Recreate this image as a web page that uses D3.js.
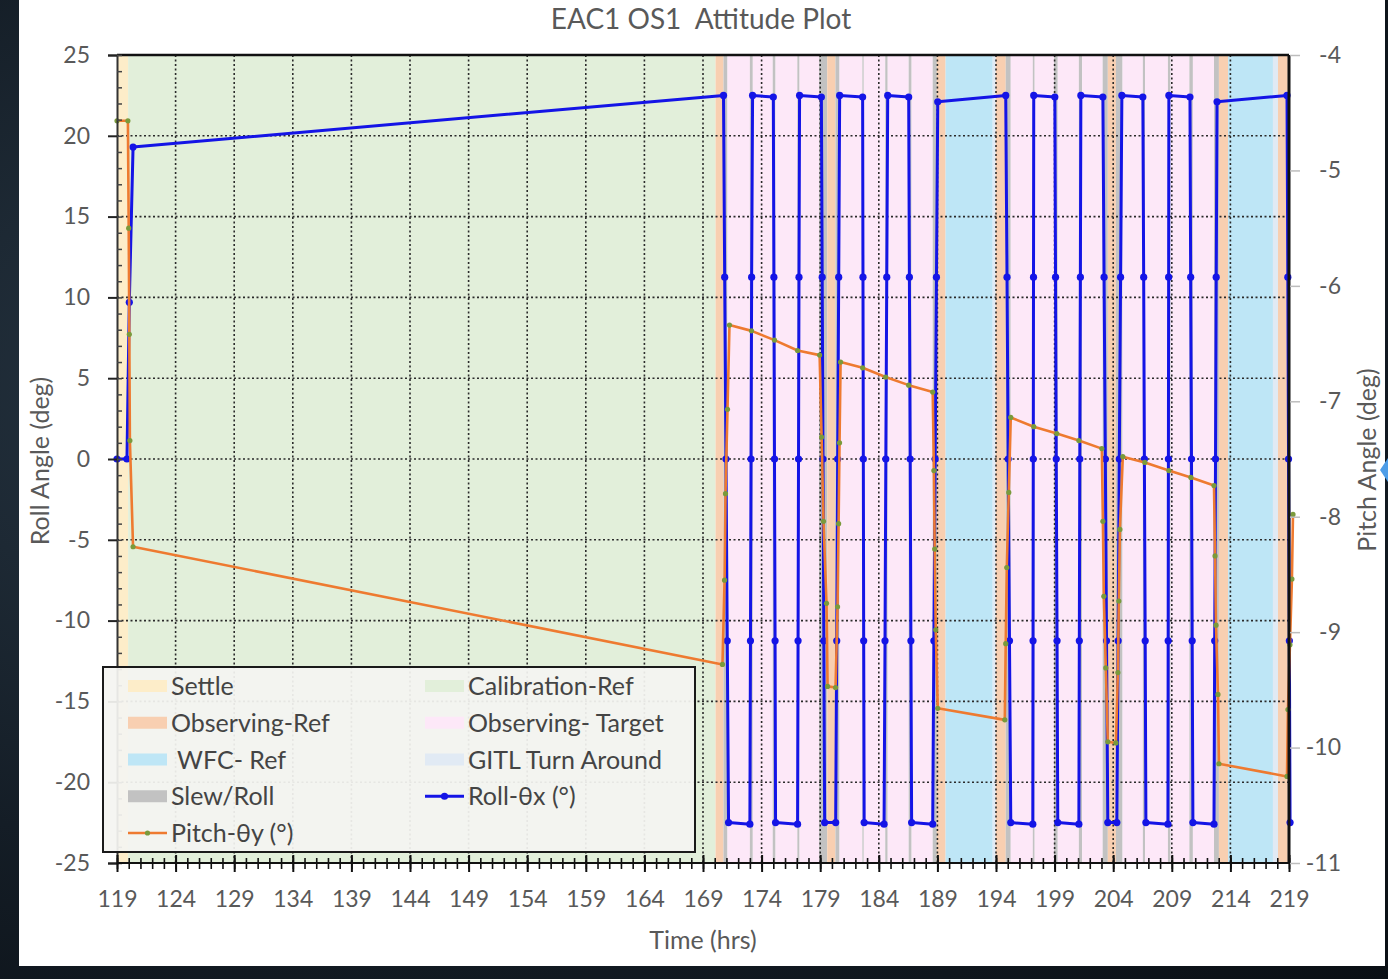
<!DOCTYPE html>
<html>
<head>
<meta charset="utf-8">
<script src="https://cdn.jsdelivr.net/npm/d3@7"></script>
<style>
  body { margin: 0; background: radial-gradient(ellipse at 30% 40%, #2a3a48 0%, #141d26 60%, #0a0f14 100%); }
  text { font-family: Lato, "Open Sans", sans-serif; }
</style>
</head>
<body>
<script>
const title = "EAC1 OS1  Attitude Plot";
const timeTicks = [119, 124, 129, 134, 139, 144, 149, 154, 159, 164, 169, 174, 179, 184, 189, 194, 199, 204, 209, 214, 219];
const rollTicks = [-25, -20, -15, -10, -5, 0, 5, 10, 15, 20, 25];
const pitchTicks = [-11, -10, -9, -8, -7, -6, -5, -4];

// activity bands: [start hr, end hr, kind]
const bands = [
  [119.00, 119.95, "settle"], [119.95, 170.07, "calib"], [170.07, 170.75, "obsRef"],
  [170.75, 171.09, "slew"], [171.09, 173.00, "target"], [173.00, 173.25, "slew"],
  [173.25, 174.95, "target"], [174.95, 175.19, "slew"], [175.19, 177.05, "target"],
  [177.05, 177.24, "slew"], [177.24, 178.90, "target"], [178.90, 179.60, "slew"],
  [179.60, 180.30, "obsRef"], [180.30, 180.65, "slew"], [180.65, 182.60, "target"],
  [182.60, 182.72, "slew"], [182.72, 184.55, "target"], [184.55, 184.76, "slew"],
  [184.76, 186.55, "target"], [186.55, 186.80, "slew"], [186.80, 188.60, "target"],
  [188.60, 188.95, "slew"], [188.95, 189.70, "obsRef"], [189.70, 193.72, "wfc"],
  [193.72, 193.98, "gitl"], [193.98, 194.83, "obsRef"], [194.83, 195.26, "slew"],
  [195.26, 197.14, "target"], [197.14, 197.30, "slew"], [197.30, 198.95, "target"],
  [198.95, 199.27, "slew"], [199.27, 201.07, "target"], [201.07, 201.35, "slew"],
  [201.35, 203.10, "target"], [203.10, 203.54, "slew"], [203.54, 204.23, "obsRef"],
  [204.23, 204.80, "slew"], [204.80, 206.53, "target"], [206.53, 206.72, "slew"],
  [206.72, 208.67, "target"], [208.67, 208.90, "slew"], [208.90, 210.50, "target"],
  [210.50, 210.80, "slew"], [210.80, 212.60, "target"], [212.60, 213.02, "slew"],
  [213.02, 213.80, "obsRef"], [213.80, 217.63, "wfc"], [217.63, 218.06, "gitl"],
  [218.06, 218.90, "obsRef"], [218.90, 219.17, "slew"]
];

// Roll-θx (°): [hr, deg]
const roll = [
  [119.00, 0], [119.85, 0], [120.05, 9.7], [120.37, 19.3],
  [170.75, 22.5], [170.85, 11.25], [170.96, 0], [171.07, -11.25], [171.18, -22.5],
  [173.00, -22.6], [173.05, -11.25], [173.10, 0], [173.15, 11.25], [173.23, 22.5],
  [175.00, 22.4], [175.05, 11.25], [175.10, 0], [175.15, -11.25], [175.19, -22.5],
  [177.07, -22.6], [177.11, -11.25], [177.15, 0], [177.19, 11.25], [177.24, 22.5],
  [179.10, 22.4], [179.17, 11.25], [179.24, 0], [179.31, -11.25], [179.38, -22.5],
  [180.32, -22.5], [180.41, -11.25], [180.49, 0], [180.58, 11.25], [180.66, 22.5],
  [182.62, 22.4], [182.65, 11.25], [182.68, 0], [182.71, -11.25], [182.75, -22.5],
  [184.45, -22.6], [184.53, -11.25], [184.60, 0], [184.68, 11.25], [184.76, 22.5],
  [186.55, 22.4], [186.61, 11.25], [186.68, 0], [186.74, -11.25], [186.80, -22.5],
  [188.60, -22.6], [188.70, -11.25], [188.81, 0], [188.92, 11.25], [189.03, 22.1],
  [194.83, 22.5], [194.94, 11.25], [195.04, 0], [195.15, -11.25], [195.26, -22.5],
  [197.14, -22.6], [197.16, -11.25], [197.18, 0], [197.20, 11.25], [197.22, 22.5],
  [199.02, 22.4], [199.08, 11.25], [199.14, 0], [199.21, -11.25], [199.27, -22.5],
  [201.07, -22.6], [201.11, -11.25], [201.15, 0], [201.20, 11.25], [201.24, 22.5],
  [203.12, 22.4], [203.22, 11.25], [203.33, 0], [203.43, -11.25], [203.54, -22.5],
  [204.31, -22.5], [204.42, -11.25], [204.52, 0], [204.63, 11.25], [204.74, 22.5],
  [206.53, 22.4], [206.60, 11.25], [206.66, 0], [206.73, -11.25], [206.79, -22.5],
  [208.67, -22.6], [208.69, -11.25], [208.71, 0], [208.73, 11.25], [208.75, 22.5],
  [210.55, 22.4], [210.61, 11.25], [210.68, 0], [210.74, -11.25], [210.80, -22.5],
  [212.60, -22.6], [212.66, -11.25], [212.73, 0], [212.79, 11.25], [212.86, 22.1],
  [218.83, 22.5], [218.90, 11.25], [218.96, 0], [219.03, -11.25], [219.09, -22.5]
];

// Pitch-θy (°): [hr, deg]
const pitch = [
  [119.00, -4.57], [119.93, -4.57], [120.00, -5.50], [120.05, -6.42], [120.10, -7.34], [120.37, -8.26],
  [170.66, -9.28], [170.84, -8.55], [170.92, -7.80], [171.09, -7.07], [171.26, -6.34],
  [173.14, -6.39], [175.10, -6.47], [177.07, -6.56], [178.95, -6.60],
  [179.12, -7.31], [179.28, -8.04], [179.54, -8.75], [179.63, -9.47], [180.31, -9.48],
  [180.48, -8.78], [180.57, -8.06], [180.65, -7.36], [180.74, -6.66],
  [182.62, -6.71], [184.58, -6.79], [186.55, -6.86], [188.60, -6.92],
  [188.70, -7.60], [188.77, -8.28], [188.86, -8.98], [189.03, -9.66], [194.75, -9.76],
  [194.83, -9.10], [194.92, -8.44], [195.09, -7.79], [195.26, -7.14],
  [197.22, -7.22], [199.19, -7.28], [201.07, -7.34], [203.03, -7.41],
  [203.12, -8.04], [203.20, -8.69], [203.37, -9.31], [203.54, -9.95], [204.23, -9.96],
  [204.40, -9.35], [204.48, -8.73], [204.57, -8.11], [204.82, -7.48],
  [206.70, -7.53], [208.75, -7.60], [210.63, -7.66], [212.60, -7.73],
  [212.69, -8.34], [212.77, -8.94], [212.94, -9.54], [213.02, -10.14], [218.83, -10.25],
  [218.91, -9.67], [219.08, -9.11], [219.25, -8.54], [219.34, -7.98]
];

const bandColor = {
  settle: "#fdedc9", calib: "#e2efda", obsRef: "#f8cfb1", target: "#fde8f8",
  wfc: "#bee6f6", gitl: "#e1eaf4", slew: "#c2c2c2"
};

const W = 1388, H = 979;
const L = 117, R = 1289, T = 55, B = 863;

const svg = d3.select("body").append("svg")
  .attr("width", W).attr("height", H)
  .style("display", "block");

// white panel
svg.append("rect").attr("x", 19).attr("y", 0).attr("width", 1366).attr("height", 966).attr("fill", "#ffffff");

const x = d3.scaleLinear().domain([119, 219]).range([L, R]);
const yL = d3.scaleLinear().domain([-25, 25]).range([B, T]);
const yR = d3.scaleLinear().domain([-11, -4]).range([B, T]);

svg.append("clipPath").attr("id", "plotClip")
  .append("rect").attr("x", L).attr("y", T).attr("width", R - L).attr("height", B - T);

svg.append("g").attr("clip-path", "url(#plotClip)")
  .selectAll("rect").data(bands).join("rect")
    .attr("x", d => x(d[0]))
    .attr("width", d => x(d[1]) - x(d[0]))
    .attr("y", T).attr("height", B - T)
    .attr("fill", d => bandColor[d[2]]);

// dotted gridlines
const grid = svg.append("g").attr("stroke", "#2a2a2a").attr("stroke-width", 1.6).attr("stroke-dasharray", "2,2.5");
grid.selectAll(".gx").data(timeTicks.slice(1, -1)).join("line")
  .attr("x1", d => x(d)).attr("x2", d => x(d)).attr("y1", T).attr("y2", B);
grid.selectAll(".gy").data(rollTicks.slice(1, -1)).join("line")
  .attr("x1", L).attr("x2", R).attr("y1", d => yL(d)).attr("y2", d => yL(d));

// lines
const rollLine = d3.line().x(d => x(d[0])).y(d => yL(d[1]));
const pitchLine = d3.line().x(d => x(d[0])).y(d => yR(d[1]));

svg.append("path").datum(roll).attr("d", rollLine)
  .attr("fill", "none").attr("stroke", "#1414e6").attr("stroke-width", 3).attr("stroke-linejoin", "round");
svg.append("g").selectAll("circle").data(roll).join("circle")
  .attr("cx", d => x(d[0])).attr("cy", d => yL(d[1])).attr("r", 3.6).attr("fill", "#1414e6");

svg.append("path").datum(pitch).attr("d", pitchLine)
  .attr("fill", "none").attr("stroke", "#ee7a30").attr("stroke-width", 2.6).attr("stroke-linejoin", "round");
svg.append("g").selectAll("circle").data(pitch).join("circle")
  .attr("cx", d => x(d[0])).attr("cy", d => yR(d[1])).attr("r", 2.6).attr("fill", "#7a9a3c");

// frame
svg.append("line").attr("x1", L).attr("x2", R).attr("y1", T).attr("y2", T).attr("stroke", "#111").attr("stroke-width", 2.5);
svg.append("line").attr("x1", R).attr("x2", R).attr("y1", T).attr("y2", B).attr("stroke", "#111").attr("stroke-width", 3);

const tickFont = g => g.selectAll("text")
  .style("font-size", "23px").attr("fill", "#595959");
const plain = d => String(d);

// left axis
const leftMajor = svg.append("g").attr("transform", `translate(${L},0)`)
  .call(d3.axisLeft(yL).tickValues(rollTicks).tickSize(9).tickPadding(18).tickFormat(plain));
leftMajor.select(".domain").attr("stroke", "#333").attr("stroke-width", 2);
leftMajor.selectAll(".tick line").attr("stroke", "#222").attr("stroke-width", 2);
tickFont(leftMajor);
const leftMinor = svg.append("g").attr("transform", `translate(${L},0)`)
  .call(d3.axisRight(yL).tickValues(d3.range(-25, 26, 1)).tickSize(5).tickFormat(""));
leftMinor.select(".domain").remove();
leftMinor.selectAll(".tick line").attr("stroke", "#444").attr("stroke-width", 1.5);

// bottom axis
svg.append("line").attr("x1", L).attr("x2", R).attr("y1", B).attr("y2", B).attr("stroke", "#111").attr("stroke-width", 2);
const botMajor = svg.append("g").attr("transform", `translate(0,${B - 8})`)
  .call(d3.axisBottom(x).tickValues(timeTicks).tickSize(17).tickPadding(19).tickFormat(plain));
botMajor.select(".domain").remove();
botMajor.selectAll(".tick line").attr("stroke", "#111").attr("stroke-width", 2);
tickFont(botMajor);
const botMinor = svg.append("g").attr("transform", `translate(0,${B - 5})`)
  .call(d3.axisBottom(x).tickValues(d3.range(119, 220, 1)).tickSize(11).tickFormat(""));
botMinor.select(".domain").remove();
botMinor.selectAll(".tick line").attr("stroke", "#111").attr("stroke-width", 1.6);

// right axis
const right = svg.append("g").attr("transform", `translate(${R + 1},0)`)
  .call(d3.axisRight(yR).tickValues(pitchTicks).tickSize(10).tickFormat(plain));
right.select(".domain").remove();
right.selectAll(".tick line").attr("stroke", "#bdbdbd").attr("stroke-width", 1.5);
right.selectAll("text").attr("x", 51).attr("text-anchor", "end");
tickFont(right);

// titles
svg.append("text").attr("x", 701).attr("y", 29).attr("text-anchor", "middle")
  .style("font-size", "28px").attr("fill", "#595959").style("white-space", "pre").text(title);
svg.append("text").attr("transform", "translate(49,461) rotate(-90)").attr("text-anchor", "middle")
  .style("font-size", "25px").attr("fill", "#595959").text("Roll Angle (deg)");
svg.append("text").attr("transform", "translate(1376,460) rotate(-90)").attr("text-anchor", "middle")
  .style("font-size", "25px").attr("fill", "#595959").text("Pitch Angle (deg)");
svg.append("text").attr("x", 703).attr("y", 949).attr("text-anchor", "middle")
  .style("font-size", "25px").attr("fill", "#595959").text("Time (hrs)");

// small blue marker at panel edge
svg.append("path").attr("d", "M1388,458 L1380,470 L1388,482 Z").attr("fill", "#4d9de8");

// legend
const legendItems = [
  { label: "Settle", kind: "settle", col: 0, row: 0 },
  { label: "Calibration-Ref", kind: "calib", col: 1, row: 0 },
  { label: "Observing-Ref", kind: "obsRef", col: 0, row: 1 },
  { label: "Observing- Target", kind: "target", col: 1, row: 1 },
  { label: " WFC- Ref", kind: "wfc", col: 0, row: 2 },
  { label: "GITL Turn Around", kind: "gitl", col: 1, row: 2 },
  { label: "Slew/Roll", kind: "slew", col: 0, row: 3 },
  { label: "Roll-θx (°)", kind: "roll", col: 1, row: 3 },
  { label: "Pitch-θy (°)", kind: "pitch", col: 0, row: 4 }
];
const lg = svg.append("g");
lg.append("rect").attr("x", 103).attr("y", 667).attr("width", 592).attr("height", 185)
  .attr("fill", "#f4f4f1").attr("fill-opacity", 0.93).attr("stroke", "#1a1a1a").attr("stroke-width", 2);
const colX = [128, 425];
const rowY = d3.scaleLinear().domain([0, 4]).range([686, 833]);
const item = lg.selectAll("g.item").data(legendItems).join("g")
  .attr("transform", d => `translate(${colX[d.col]},${rowY(d.row)})`);
item.filter(d => bandColor[d.kind]).append("rect")
  .attr("x", 0).attr("y", -6).attr("width", 39).attr("height", 12).attr("fill", d => bandColor[d.kind]);
item.filter(d => d.kind === "roll").call(g => {
  g.append("line").attr("x1", 0).attr("x2", 39).attr("stroke", "#1414e6").attr("stroke-width", 3);
  g.append("circle").attr("cx", 19.5).attr("r", 3.6).attr("fill", "#1414e6");
});
item.filter(d => d.kind === "pitch").call(g => {
  g.append("line").attr("x1", 0).attr("x2", 39).attr("stroke", "#ee7a30").attr("stroke-width", 2.6);
  g.append("circle").attr("cx", 19.5).attr("r", 2.6).attr("fill", "#7a9a3c");
});
item.append("text").attr("x", 43).attr("dy", "0.36em")
  .style("font-size", "25px").style("white-space", "pre").attr("fill", "#444").text(d => d.label);
</script>
</body>
</html>
